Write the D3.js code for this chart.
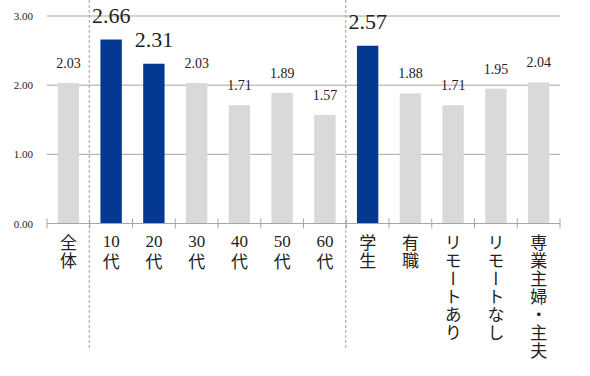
<!DOCTYPE html>
<html>
<head>
<meta charset="utf-8">
<script src="https://cdn.jsdelivr.net/npm/d3@7"></script>
<style>
  body { margin: 0; background: #fff; }
  svg { display: block; }
  text { font-family: "Liberation Serif", "DejaVu Serif", "Noto Sans CJK JP", serif; fill: #222; }
</style>
</head>
<body>
<div id="chart"></div>
<script>
// data
const categories = ["全体", "10代", "20代", "30代", "40代", "50代", "60代", "学生", "有職", "リモートあり", "リモートなし", "専業主婦・主夫"];
const values = [2.03, 2.66, 2.31, 2.03, 1.71, 1.89, 1.57, 2.57, 1.88, 1.71, 1.95, 2.04];
const highlighted = ["10代", "20代", "学生"];
const yTicks = [0, 1, 2, 3];
const separators = ["10代", "学生"]; // dashed line on the left of these

const W = 590, H = 376;
const x0 = 47, x1 = 560, yTop = 16, yBase = 223.5;

const svg = d3.select("#chart").append("svg").attr("width", W).attr("height", H);

const x = d3.scaleBand().domain(categories).range([x0, x1]).paddingInner(0.5).paddingOuter(0.25);
const y = d3.scaleLinear().domain([0, 3]).range([yBase, yTop]);

// gridlines
svg.append("g").selectAll("line")
  .data(yTicks.filter(d => d > 0))
  .join("line")
  .attr("x1", x0).attr("x2", x1)
  .attr("y1", d => y(d)).attr("y2", d => y(d))
  .attr("stroke", "#a6a6a6").attr("stroke-width", 1);

// y labels
svg.append("g").selectAll("text")
  .data(yTicks)
  .join("text")
  .attr("x", 33).attr("y", d => y(d) + 4)
  .attr("text-anchor", "end")
  .style("font-size", "11px")
  .text(d => d.toFixed(2));

// bars
svg.append("g").selectAll("rect")
  .data(categories)
  .join("rect")
  .attr("x", d => x(d))
  .attr("width", x.bandwidth())
  .attr("y", (d, i) => y(values[i]))
  .attr("height", (d, i) => y(0) - y(values[i]))
  .attr("fill", d => highlighted.includes(d) ? "#053991" : "#d9d9d9");

// x axis line and ticks
svg.append("line")
  .attr("x1", x0).attr("x2", x1).attr("y1", yBase).attr("y2", yBase)
  .attr("stroke", "#a6a6a6");
const step = x.step();
svg.append("g").selectAll("line")
  .data(d3.range(categories.length + 1))
  .join("line")
  .attr("x1", i => x0 + i * step).attr("x2", i => x0 + i * step)
  .attr("y1", yBase - 5).attr("y2", yBase + 5)
  .attr("stroke", "#a6a6a6");

// dashed separators
svg.append("g").selectAll("line")
  .data(separators)
  .join("line")
  .attr("x1", d => x(d) - x.bandwidth() / 2 - 0.5).attr("x2", d => x(d) - x.bandwidth() / 2 - 0.5)
  .attr("y1", 0).attr("y2", 348)
  .attr("stroke", "#a0a0a0").attr("stroke-dasharray", "3,2");

// value labels
svg.append("g").selectAll("text")
  .data(categories)
  .join("text")
  .attr("x", d => x(d) + x.bandwidth() / 2)
  .attr("y", (d, i) => y(values[i]) - (highlighted.includes(d) ? 17 : 15))
  .attr("text-anchor", "middle")
  .style("font-size", d => highlighted.includes(d) ? "22px" : "14px")
  .text((d, i) => values[i].toFixed(2));

// category labels: digits stay horizontal on top, the rest runs vertically
const lab = svg.append("g").selectAll("g")
  .data(categories)
  .join("g")
  .attr("transform", d => `translate(${x(d) + x.bandwidth() / 2},0)`);
lab.each(function(d) {
  const g = d3.select(this);
  const m = d.match(/^(\d+)(.*)$/);
  let rest = d, top = 234;
  if (m) {
    g.append("text").attr("x", 0).attr("y", 247)
      .attr("text-anchor", "middle")
      .style("font-size", "17px")
      .text(m[1]);
    rest = m[2];
    top = 253;
  }
  g.append("text").attr("x", 0).attr("y", top)
    .style("font-size", "17px")
    .style("writing-mode", "vertical-rl")
    .style("text-orientation", "upright")
    .style("font-family", "'Noto Sans CJK JP'")
    .style("letter-spacing", "1px")
    .text(rest);
});
</script>
</body>
</html>
